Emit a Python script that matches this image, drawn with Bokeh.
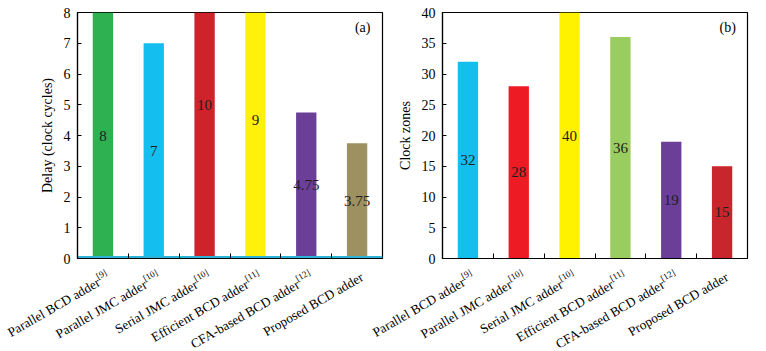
import math
import numpy as np
from bokeh.plotting import figure
from bokeh.layouts import row, column
from bokeh.models import (Range1d, FixedTicker, SingleIntervalTicker,
                          ColumnDataSource, Label, Span)
from bokeh.core.properties import value
from bokeh.embed import file_html
from bokeh.resources import INLINE

# ---------------- data ----------------
categories = ["Parallel BCD adder", "Parallel JMC adder", "Serial JMC adder",
              "Efficient BCD adder", "CFA-based BCD adder", "Proposed BCD adder"]
refs = ["[9]", "[10]", "[10]", "[11]", "[12]", ""]

delay_values = [8, 7, 10, 9, 4.75, 3.75]
delay_labels = ["8", "7", "10", "9", "4.75", "3.75"]
delay_colors = ["#2EB150", "#14BEEE", "#CF232B", "#FFF10A", "#6B3F98", "#9D9061"]

zone_values = [32, 28, 40, 36, 19, 15]
zone_labels = ["32", "28", "40", "36", "19", "15"]
zone_colors = ["#14BEEE", "#ED1C24", "#FFF200", "#9ACD5F", "#6B3F98", "#C8262C"]

# ---------------- layout constants ----------------
FONT = "Liberation Serif"
W, H = 766, 351
TOP = 12
FRAME_H = 246
PLOT_H = 268                      # height of the two bar-chart canvases
L1, L2, FRAME_W = 77, 442, 305    # frame left edges and width
ANG = 30.0
MAIN_FS = 13.3
SUP_FS = 9.0
N = len(categories)
PPU = FRAME_W / N                 # pixels per category


def em_width(s, fs):
    w = 0.0
    for ch in s:
        w += 0.333 if ch in "[]" else 0.5
    return w * fs


def make_plot(vals, labels, colors, ymax, ystep, ylabel, tag, width,
              border_left, border_right):
    xs = np.arange(N) + 0.5
    p = figure(width=width, height=PLOT_H, output_backend="svg", toolbar_location=None,
               x_range=Range1d(0, N), y_range=Range1d(0, ymax),
               min_border_left=border_left, min_border_right=border_right,
               min_border_top=TOP, min_border_bottom=PLOT_H - TOP - FRAME_H,
               background_fill_color="white", border_fill_alpha=0)
    p.outline_line_color = "black"
    p.outline_line_width = 1.2
    p.xgrid.visible = False
    p.ygrid.visible = False

    p.vbar(x=xs, top=vals, width=0.4, color=colors, line_color=None)

    src = ColumnDataSource(dict(x=xs, y=np.array(vals) / 2.0, t=labels))
    p.text(x="x", y="y", text="t", source=src, text_align="center",
           text_baseline="middle", text_font=value(FONT),
           text_font_size="15px", text_color="#1e1e1e")

    ticks = list(range(1, N))
    xa = p.xaxis[0]
    xa.ticker = FixedTicker(ticks=ticks)
    xa.major_label_overrides = {t: "" for t in ticks}
    xa.major_tick_in = 5
    xa.major_tick_out = 0
    xa.minor_tick_line_color = None
    xa.major_label_standoff = 0
    xa.axis_line_color = "black"
    xa.axis_line_width = 1.2

    ya = p.yaxis[0]
    ya.ticker = SingleIntervalTicker(interval=ystep)
    ya.major_tick_in = 4
    ya.major_tick_out = 0
    ya.minor_tick_line_color = None
    ya.major_label_text_font = FONT
    ya.major_label_text_font_size = "14px"
    ya.major_label_text_color = "black"
    ya.major_label_standoff = 3
    ya.axis_label = ylabel
    ya.axis_label_text_font = FONT
    ya.axis_label_text_font_size = "14px"
    ya.axis_label_text_font_style = "normal"
    ya.axis_label_text_color = "black"
    ya.axis_label_standoff = 6
    ya.axis_line_color = "black"
    ya.axis_line_width = 1.2

    p.add_layout(Label(x=5.61, y=ymax * 0.938, text=tag, text_align="center",
                       text_baseline="middle", text_font=FONT,
                       text_font_size="14px", text_color="black"))
    return p


p1 = make_plot(delay_values, delay_labels, delay_colors, 8, 1,
               "Delay (clock cycles)", "(a)", 400, L1, 400 - L1 - FRAME_W)
# cyan baseline along the bottom of panel (a), clipped to the frame
try:
    p1.hspan(y=[0], line_color="#2BB3D8", line_width=5)
except Exception:
    p1.add_layout(Span(location=0, dimension="width", line_color="#2BB3D8",
                       line_width=3))
p2 = make_plot(zone_values, zone_labels, zone_colors, 40, 5,
               "Clock zones", "(b)", 391, L2 - 375, W - L2 - FRAME_W)
p2.margin = (0, 0, 0, -25)

# ---------------- rotated category labels (own canvas below both charts) ----------------
LH = H - PLOT_H
pl = figure(width=W, height=LH, output_backend="svg", toolbar_location=None,
            x_range=Range1d(-L1 / PPU, (W - L1) / PPU), y_range=Range1d(LH, 0),
            min_border=0, border_fill_alpha=0, background_fill_alpha=0)
pl.axis.visible = False
pl.grid.visible = False
pl.outline_line_color = None

c, s = math.cos(math.radians(ANG)), math.sin(math.radians(ANG))
axis_y = TOP + FRAME_H - PLOT_H        # axis line position in label canvas (px)
end_dx, end_dy = 5.0, 17.5             # label end relative to bar centre / axis
mx, my, sx, sy, mt, st = [], [], [], [], [], []
for offset in (0.0, (L2 - L1) / PPU):
    for i, (cat, r) in enumerate(zip(categories, refs)):
        ws = em_width(r, SUP_FS) if r else 0.0
        ex = i + 0.5 + offset + (end_dx - ws * c) / PPU
        ey = axis_y + end_dy + ws * s
        mx.append(ex); my.append(ey); mt.append(cat)
        if r:
            sx.append(ex + (-5.0 * s + 0.5) / PPU)
            sy.append(ey - 5.0 * c)
            st.append(r)

pl.text(x=mx, y=my, text=mt, angle=ANG, angle_units="deg", text_align="right",
        text_baseline="alphabetic", text_font=value(FONT),
        text_font_size=f"{MAIN_FS}px", text_color="black")
pl.text(x=sx, y=sy, text=st, angle=ANG, angle_units="deg", text_align="left",
        text_baseline="alphabetic", text_font=value(FONT),
        text_font_size=f"{SUP_FS}px", text_color="black")

layout = column(row(p1, p2), pl)
open("out.html", "w").write(file_html(layout, INLINE))
